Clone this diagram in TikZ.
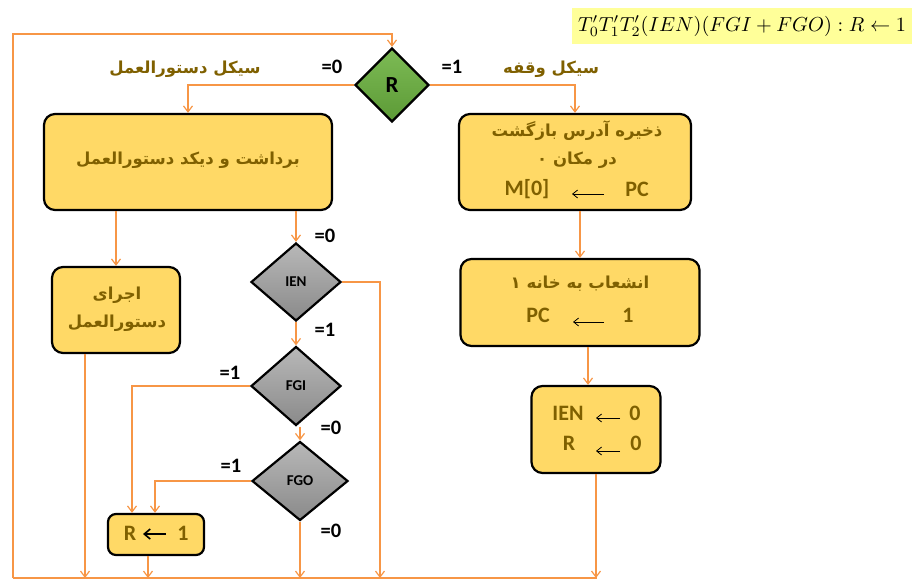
\documentclass[tikz,border=0pt]{standalone}
\usepackage{fontspec}
\setmainfont{Carlito}
\newfontfamily\fa[Script=Arabic]{DejaVu Sans}
\TeXXeTstate=1
\usetikzlibrary{shapes.geometric,arrows.meta}
\definecolor{org}{HTML}{F79646}
\definecolor{boxy}{HTML}{FFD966}
\definecolor{brn}{HTML}{7F6000}
\definecolor{hl}{HTML}{FFFF99}
\definecolor{gtop}{HTML}{B8B8B8}
\definecolor{gbot}{HTML}{8A8A8A}
\definecolor{grtop}{HTML}{7DBB55}
\definecolor{grbot}{HTML}{5C9A36}
\begin{document}
\begin{tikzpicture}[x=1pt,y=-1pt,
  line/.style={draw=org,line width=1.2pt},
  arr/.style={line,-{Straight Barb[length=6pt,width=9pt]}},
  box/.style={draw=black,line width=2.2pt,fill=boxy,rounded corners=11pt,inner sep=0pt},
  dia/.style={diamond,draw=black,line width=2.2pt,inner sep=0pt,font=\bfseries\fontsize{15}{15}\selectfont},
  gdia/.style={dia,top color=gtop,bottom color=gbot},
  fatxt/.style={font=\fa\bfseries\fontsize{16.5}{19}\selectfont,text=brn,inner sep=0pt},
  latxt/.style={font=\bfseries\fontsize{22}{24}\selectfont,text=brn,inner sep=0pt},
  lbl/.style={font=\bfseries\fontsize{20.5}{22}\selectfont,inner sep=0pt},
  iarr/.style={draw=black,line width=0.8pt,-{Straight Barb[length=5pt,width=8pt]}}
]
\useasboundingbox (0,0) rectangle (917,581);

% formula
\node[fill=hl,minimum width=340pt,minimum height=36pt,inner sep=0pt] (fm) at (742,26) {\resizebox{328pt}{!}{$T_0'T_1'T_2'(IEN)(FGI+FGO):R\leftarrow 1$}};

% decision R
\node[dia,top color=grtop,bottom color=grbot,minimum width=74pt,minimum height=74pt,font=\bfseries\fontsize{23}{23}\selectfont] (R) at (392,85) {R};

% boxes
\node[box,minimum width=288pt,minimum height=96pt] (F) at (188,162) {};
\node[fatxt] (Ft) at (188,160) {\beginR برداشت و دیکد دستورالعمل\endR};

\node[box,minimum width=232pt,minimum height=96pt] (B2) at (575,162) {};
\node[fatxt] (B2a) at (577,131) {\beginR ذخیره آدرس بازگشت\endR};
\node[fatxt] (B2b) at (577,160) {\beginR در مکان ۰\endR};
\node[latxt] (B2m) at (527,189) {M[0]};
\node[latxt] (B2p) at (637,189) {PC};
\coordinate (a1s) at (604,194);
\coordinate (a1e) at (572,194);
\draw[iarr] (a1s) -- (a1e);

\node[box,minimum width=239pt,minimum height=87pt] (B3) at (580,302.5) {};
\node[fatxt] (B3a) at (580,284) {\beginR انشعاب به خانه ۱\endR};
\node[latxt] (B3p) at (538,315) {PC};
\node[latxt] (B3o) at (628,315) {1};
\coordinate (a2s) at (604,322);
\coordinate (a2e) at (573,322);
\draw[iarr] (a2s) -- (a2e);

\node[box,minimum width=129pt,minimum height=87pt] (B4) at (596,429.5) {};
\node[latxt] (B4i) at (568,413) {IEN};
\node[latxt] (B4z) at (635,413) {0};
\node[latxt] (B4r) at (569,443) {R};
\node[latxt] (B4y) at (636,443) {0};
\coordinate (a3s) at (620,418);
\coordinate (a3e) at (596,418);
\draw[iarr] (a3s) -- (a3e);
\coordinate (a4s) at (620,451);
\coordinate (a4e) at (596,451);
\draw[iarr] (a4s) -- (a4e);

\node[box,minimum width=128pt,minimum height=86pt] (E) at (116,310) {};
\node[fatxt] (Ea) at (117,295) {\beginR اجرای\endR};
\node[fatxt] (Eb) at (117,323) {\beginR دستورالعمل\endR};

\node[box,minimum width=96pt,minimum height=41pt,rounded corners=8pt] (RB) at (156,534.5) {};
\node[latxt] (RBr) at (130,533) {R};
\node[latxt] (RBo) at (183,533) {1};
\coordinate (a5s) at (166,534);
\coordinate (a5e) at (143,534);
\draw[draw=black,line width=1.6pt,-{Straight Barb[length=6pt,width=10pt]}] (a5s) -- (a5e);

% grey decisions
\node[gdia,minimum width=90pt,minimum height=78pt] (IEN) at (296,282) {IEN};
\node[gdia,minimum width=90pt,minimum height=79pt] (FGI) at (296,386) {FGI};
\node[gdia,minimum width=96pt,minimum height=79pt] (FGO) at (300,481) {FGO};

% labels
\node[lbl] (l1) at (332,67) {=0};
\node[lbl] (l2) at (452,67) {=1};
\node[fatxt] (l3) at (185,69) {\beginR سیکل دستورالعمل\endR};
\node[fatxt] (l4) at (551,69) {\beginR سیکل وقفه\endR};
\node[lbl] (l5) at (325,236) {=0};
\node[lbl] (l6) at (325,330) {=1};
\node[lbl] (l7) at (230,373) {=1};
\node[lbl] (l8) at (331,428) {=0};
\node[lbl] (l9) at (231,466) {=1};
\node[lbl] (l10) at (331,531) {=0};

% frame coordinates
\coordinate (bl) at (13,578);
\coordinate (tl) at (13,34);
\coordinate (br) at (597,578);
\coordinate (b380) at (380,578);

% connectors
\draw[line] (bl) -- (br);
\draw[arr] (bl) -- (tl) -| (R.north);
\draw[arr] (R.west) -| (F.north);
\draw[arr] (R.east) -| (B2.north);
\draw[arr] (B2.south -| B3.north) -- (B3.north);
\draw[arr] ([xshift=8pt]B3.south) -- ([xshift=-8pt]B4.north);
\draw[arr] (B4.south) -- (B4.south |- br);
\draw[arr] (F.south -| E.north) -- (E.north);
\draw[arr] ([xshift=-31pt]E.south) -- ([xshift=-31pt]E.south |- bl);
\draw[arr] (F.south -| IEN.north) -- (IEN.north);
\draw[arr] (IEN.east) -| (b380);
\draw[arr] (IEN.south) -- (FGI.north);
\draw[arr] (FGI.west) -| ([xshift=-24pt]RB.north);
\draw[arr] (FGI.south -| FGO.north) -- (FGO.north);
\draw[arr] (FGO.west) -| ([xshift=-1pt]RB.north);
\draw[arr] (FGO.south) -- (FGO.south |- bl);
\draw[arr] ([xshift=-8pt]RB.south) -- ([xshift=-8pt]RB.south |- bl);
\end{tikzpicture}
\end{document}
